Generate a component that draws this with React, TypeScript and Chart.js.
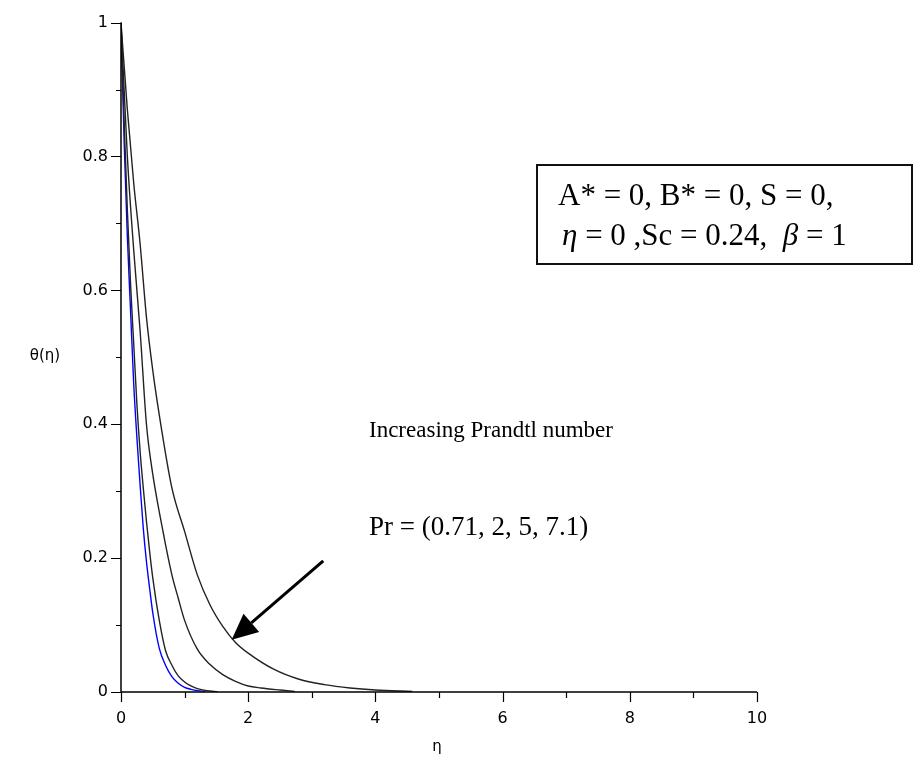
import React, { useEffect, useRef } from "react";
import { Chart, registerables } from "chart.js";

Chart.register(...registerables);

// Temperature profiles theta(eta) for four Prandtl numbers
const etaPr071 = [0, 0.1, 0.2, 0.3, 0.4, 0.5, 0.6, 0.8, 1.0, 1.2, 1.4, 1.6, 1.8, 2.0, 2.4, 2.8, 3.2, 3.6, 4.0, 4.58];
const thetaPr071 = [1, 0.87, 0.76, 0.67, 0.56, 0.48, 0.415, 0.305, 0.24, 0.175, 0.13, 0.098, 0.074, 0.058, 0.034, 0.019, 0.011, 0.006, 0.003, 0.001];

const etaPr2 = [0, 0.1, 0.2, 0.3, 0.4, 0.5, 0.6, 0.7, 0.8, 0.9, 1.0, 1.2, 1.4, 1.6, 1.8, 2.0, 2.2, 2.5, 2.73];
const thetaPr2 = [1, 0.8, 0.66, 0.54, 0.4, 0.325, 0.27, 0.22, 0.175, 0.14, 0.107, 0.064, 0.041, 0.026, 0.016, 0.009, 0.006, 0.003, 0.001];

const etaPr5 = [0, 0.05, 0.1, 0.15, 0.2, 0.25, 0.3, 0.35, 0.4, 0.45, 0.5, 0.6, 0.7, 0.8, 0.9, 1.0, 1.1, 1.2, 1.35, 1.52];
const thetaPr5 = [1, 0.85, 0.72, 0.61, 0.52, 0.43, 0.36, 0.305, 0.255, 0.21, 0.17, 0.108, 0.062, 0.04, 0.024, 0.015, 0.009, 0.005, 0.002, 0.0005];

const etaPr71 = [0, 0.05, 0.1, 0.15, 0.2, 0.25, 0.3, 0.35, 0.4, 0.45, 0.5, 0.6, 0.7, 0.8, 0.9, 1.0, 1.1, 1.2, 1.32];
const thetaPr71 = [1, 0.82, 0.68, 0.57, 0.46, 0.38, 0.31, 0.245, 0.195, 0.155, 0.118, 0.066, 0.04, 0.023, 0.013, 0.007, 0.004, 0.002, 0.001];

const xTickLabels = ["0", "2", "4", "6", "8", "10"];
const yTickLabels = ["0", "0.2", "0.4", "0.6", "0.8", "1"];

const paramLine1 = "A* = 0, B* = 0, S = 0,";
const annotationLine1 = "Increasing Prandtl number";
const annotationLine2 = "Pr = (0.71, 2, 5, 7.1)";
// arrow from tail to tip, in (eta, theta)
const arrowTail = [3.18, 0.196];
const arrowTip = [1.74, 0.078];

const toPoints = (xs: number[], ys: number[]) => xs.map((x, i) => ({ x, y: ys[i] }));

const AXIS_FAMILY = "'DejaVu Sans', 'Noto Sans', sans-serif";
const SERIF = "'Liberation Serif', 'Times New Roman', serif";

const framePlugin = {
  id: "frame",
  afterDraw(chart: any) {
    const { ctx, scales } = chart;
    const xs = scales.x;
    const ys = scales.y;
    const x0 = xs.getPixelForValue(0);
    const y0 = ys.getPixelForValue(0);
    ctx.save();
    ctx.strokeStyle = "#000";
    ctx.lineWidth = 1.5;
    ctx.lineCap = "butt";
    // axes
    ctx.beginPath();
    ctx.moveTo(x0, ys.getPixelForValue(1));
    ctx.lineTo(x0, y0);
    ctx.moveTo(x0, y0);
    ctx.lineTo(xs.getPixelForValue(10), y0);
    ctx.stroke();
    // y ticks
    ctx.lineWidth = 1.2;
    ctx.beginPath();
    for (let i = 0; i <= 10; i++) {
      const py = Math.round(ys.getPixelForValue(i / 10)) + 0.5;
      const len = i % 2 === 0 ? 10 : 5;
      ctx.moveTo(x0 - len, py);
      ctx.lineTo(x0, py);
    }
    // x ticks
    for (let i = 0; i <= 10; i++) {
      const px = Math.round(xs.getPixelForValue(i)) + 0.5;
      const len = i % 2 === 0 ? 10 : 6;
      ctx.moveTo(px, y0);
      ctx.lineTo(px, y0 + len);
    }
    ctx.stroke();

    // axis titles
    ctx.fillStyle = "#000";
    ctx.font = `15px ${AXIS_FAMILY}`;
    ctx.textAlign = "center";
    ctx.textBaseline = "middle";
    ctx.fillText("θ(η)", 45, 356);
    ctx.fillText("η", 437, 747);

    // parameter box
    ctx.lineWidth = 2;
    ctx.strokeStyle = "#111";
    ctx.strokeRect(537, 165, 375, 99);
    ctx.textAlign = "left";
    ctx.textBaseline = "alphabetic";
    ctx.font = `31px ${SERIF}`;
    ctx.fillText(paramLine1, 558, 205);
    // second line mixes italic Greek letters with upright text
    let cx = 562;
    const parts: [string, boolean][] = [
      ["η", true],
      [" = 0 ,Sc = 0.24,  ", false],
      ["β", true],
      [" = 1", false],
    ];
    for (const [t, it] of parts) {
      ctx.font = `${it ? "italic " : ""}31px ${SERIF}`;
      ctx.fillText(t, cx, 245);
      cx += ctx.measureText(t).width;
    }

    // annotation text
    ctx.font = `23px ${SERIF}`;
    ctx.fillText(annotationLine1, 369, 437);
    ctx.font = `27px ${SERIF}`;
    ctx.fillText(annotationLine2, 369, 535);

    // arrow
    const tx = xs.getPixelForValue(arrowTail[0]);
    const ty = ys.getPixelForValue(arrowTail[1]);
    const hx = xs.getPixelForValue(arrowTip[0]);
    const hy = ys.getPixelForValue(arrowTip[1]);
    const ang = Math.atan2(hy - ty, hx - tx);
    const headLen = 26;
    const headHalf = 12;
    const bx = hx - headLen * Math.cos(ang);
    const by = hy - headLen * Math.sin(ang);
    ctx.strokeStyle = "#000";
    ctx.lineWidth = 3;
    ctx.beginPath();
    ctx.moveTo(tx, ty);
    ctx.lineTo(bx, by);
    ctx.stroke();
    ctx.beginPath();
    ctx.moveTo(hx, hy);
    ctx.lineTo(bx + headHalf * Math.sin(ang), by - headHalf * Math.cos(ang));
    ctx.lineTo(bx - headHalf * Math.sin(ang), by + headHalf * Math.cos(ang));
    ctx.closePath();
    ctx.fill();
    ctx.restore();
  },
};

export default function App() {
  const ref = useRef<HTMLCanvasElement | null>(null);

  useEffect(() => {
    if (!ref.current) return;
    const lineStyle = {
      showLine: true,
      pointRadius: 0,
      borderWidth: 1.4,
      cubicInterpolationMode: "monotone" as const,
      fill: false,
    };
    const chart = new Chart(ref.current, {
      type: "scatter",
      data: {
        datasets: [
          { ...lineStyle, label: "Pr = 0.71", data: toPoints(etaPr071, thetaPr071), borderColor: "#222" },
          { ...lineStyle, label: "Pr = 2", data: toPoints(etaPr2, thetaPr2), borderColor: "#222" },
          { ...lineStyle, label: "Pr = 5", data: toPoints(etaPr5, thetaPr5), borderColor: "#222" },
          { ...lineStyle, label: "Pr = 7.1", data: toPoints(etaPr71, thetaPr71), borderColor: "#0000ff" },
        ],
      },
      options: {
        animation: false,
        responsive: false,
        devicePixelRatio: 1,
        layout: { padding: { left: 0, top: 20, right: 158, bottom: 0 } },
        plugins: { legend: { display: false }, tooltip: { enabled: false } },
        scales: {
          x: {
            type: "linear",
            min: 0,
            max: 10,
            grid: { display: false, drawTicks: false },
            border: { display: false },
            ticks: {
              stepSize: 2,
              autoSkip: false,
              maxRotation: 0,
              padding: 17,
              color: "#000",
              font: { family: AXIS_FAMILY, size: 16 },
              callback: (v: any) => xTickLabels[Math.round(Number(v) / 2)] ?? "",
            },
            afterFit: (s: any) => {
              s.height = 78;
            },
          },
          y: {
            type: "linear",
            min: 0,
            max: 1,
            grid: { display: false, drawTicks: false },
            border: { display: false },
            ticks: {
              stepSize: 0.2,
              autoSkip: false,
              padding: 13,
              color: "#000",
              font: { family: AXIS_FAMILY, size: 16 },
              callback: (v: any) => yTickLabels[Math.round(Number(v) * 5)] ?? "",
            },
            afterFit: (s: any) => {
              s.width = 121;
            },
          },
        },
      },
      plugins: [framePlugin],
    });
    return () => chart.destroy();
  }, []);

  return (
    <div style={{ position: "fixed", left: 0, top: 0, width: 915, height: 770, background: "#fff" }}>
      <canvas ref={ref} width={915} height={770} style={{ width: 915, height: 770, display: "block" }} />
    </div>
  );
}
